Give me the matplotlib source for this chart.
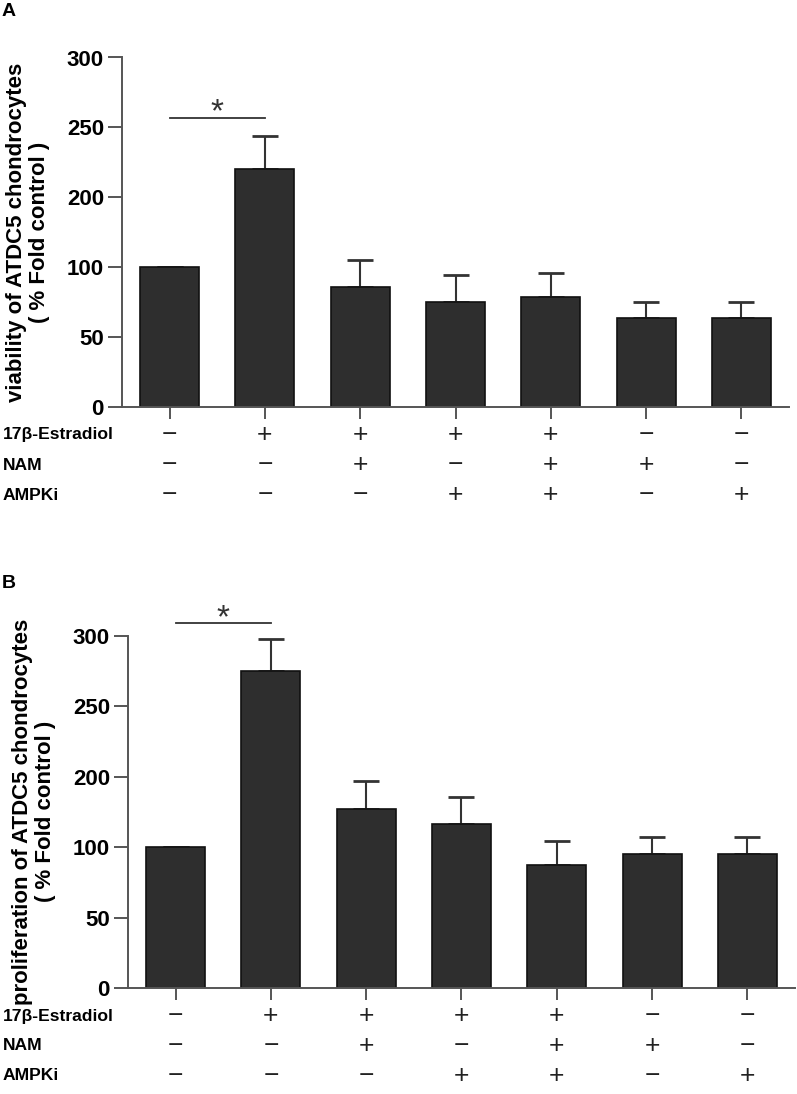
import numpy as np
import matplotlib
matplotlib.use("Agg")
import matplotlib.pyplot as plt

plt.rcParams['font.family'] = ['Liberation Sans', 'DejaVu Sans']

# treatment matrix (1 = +, 0 = -)
row_names = ["17β-Estradiol", "NAM", "AMPKi"]
estradiol = [0, 1, 1, 1, 1, 0, 0]
nam = [0, 0, 1, 0, 1, 1, 0]
ampki = [0, 0, 0, 1, 1, 0, 1]

# panel A: viability
viab_mean = [100, 220, 86, 75, 78.5, 63.5, 63.5]
viab_err = [0, 24, 25, 19.5, 17.5, 11.5, 11.5]

# panel B: proliferation
prol_mean = [100, 275, 154, 133, 87, 95, 95]
prol_err = [0, 23, 40, 38, 22, 19, 19]

yticks = [0, 50, 100, 200, 250, 300]


def fwd(v):
    v = np.asarray(v, dtype=float)
    return np.where(v <= 100, v, np.where(v <= 200, 100 + (v - 100) / 2, v - 50))


def inv(s):
    s = np.asarray(s, dtype=float)
    return np.where(s <= 100, s, np.where(s <= 150, 100 + (s - 100) * 2, s + 50))


def draw_panel(ax, means, errs, ylabel, sig_y):
    x = np.arange(len(means))
    ax.set_yscale('function', functions=(fwd, inv))
    ax.bar(x, means, width=0.62, color='#2e2e2e', edgecolor='#111111', linewidth=1.2, zorder=2)
    ax.errorbar(x, means, yerr=[np.zeros(len(errs)), errs], fmt='none',
                ecolor='#333333', elinewidth=1.5, capsize=9.5, capthick=2.0, zorder=1)
    ax.set_xlim(-0.5, 6.5)
    ax.set_ylim(0, 300)
    ax.set_yticks(yticks)
    ax.set_yticklabels([str(t) for t in yticks], fontweight='bold', fontsize=16)
    ax.set_xticks(x)
    ax.set_xticklabels([])
    for s in ['top', 'right']:
        ax.spines[s].set_visible(False)
    for s in ['left', 'bottom']:
        ax.spines[s].set_color('#555555')
        ax.spines[s].set_linewidth(1.4)
    ax.tick_params(axis='y', length=10, width=1.4, color='#555555', pad=3)
    ax.tick_params(axis='x', length=8.5, width=1.4, color='#555555')
    ax.set_ylabel(ylabel, fontweight='bold', fontsize=16, linespacing=1.15)
    ax.yaxis.set_label_coords(-0.108, 0.5)

    # significance bar
    ax.plot([0, 1], [sig_y, sig_y], color='#333333', lw=1.3, clip_on=False)
    ax.annotate('*', xy=(0.5, sig_y), xytext=(0, -8), textcoords='offset points',
                ha='center', va='bottom', fontsize=24, color='#333333',
                annotation_clip=False)

    # treatment rows
    rows = [estradiol, nam, ampki]
    offsets = [-28, -58, -88]
    for name, row, off in zip(row_names, rows, offsets):
        ax.annotate(name, xy=(3 / 797, 0), xycoords=('figure fraction', 'axes fraction'),
                    xytext=(0, off * 0.72), textcoords='offset points',
                    ha='left', va='center', fontsize=12.6, fontweight='bold',
                    annotation_clip=False)
        for xi, val in zip(x, row):
            ax.annotate('+' if val else '\u2212', xy=(xi, 0), xycoords=('data', 'axes fraction'),
                        xytext=(0, off * 0.72), textcoords='offset points',
                        ha='center', va='center', fontsize=19, color='#222222',
                        annotation_clip=False)


fig = plt.figure(figsize=(7.97, 10.94), dpi=100)
axA = fig.add_axes([122 / 797, 1 - 407 / 1094, 667 / 797, 349.5 / 1094])
axB = fig.add_axes([128 / 797, 1 - 988 / 1094, 667 / 797, 352.3 / 1094])

draw_panel(axA, viab_mean, viab_err,
           "viability of ATDC5 chondrocytes\n( % Fold control )", 257)
draw_panel(axB, prol_mean, prol_err,
           "proliferation of ATDC5 chondrocytes\n( % Fold control )", 309)

fig.text(9 / 797, 1 - 12 / 1094, 'A', fontweight='bold', fontsize=14, ha='center', va='center')
fig.text(9 / 797, 1 - 583 / 1094, 'B', fontweight='bold', fontsize=14, ha='center', va='center')

fig.savefig('out.png', dpi=100)
